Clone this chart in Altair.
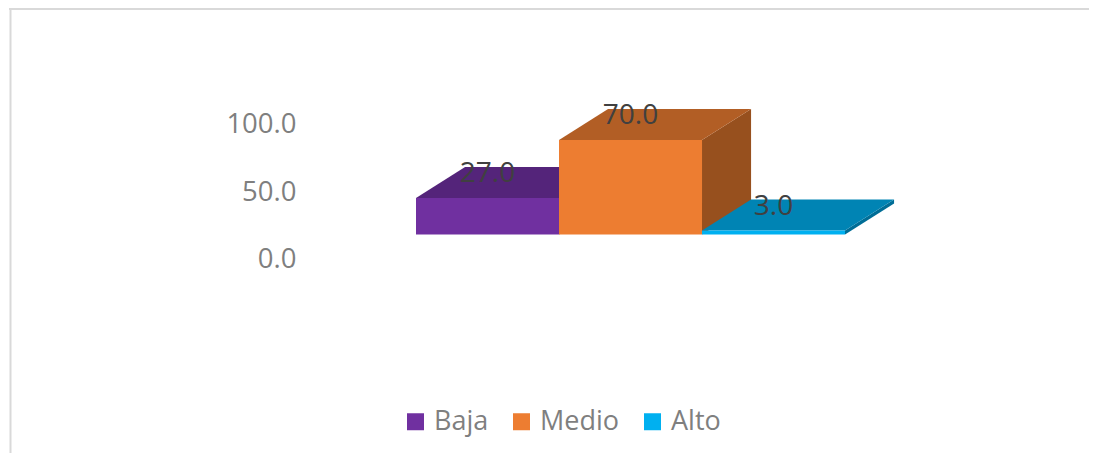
import altair as alt
import pandas as pd

categories = ["Baja", "Medio", "Alto"]
values = [27.0, 70.0, 3.0]
tick_values = [0, 50, 100]

front_colors = ["#7030a0", "#ed7d31", "#00b0f0"]
top_colors = ["#54247a", "#b25e25", "#0084b4"]
side_colors = ["#46205f", "#97501e", "#006d96"]

DEPTH_X = 0.343
DEPTH_Y = 23.0
W, H = 1081, 445
X_DOMAIN = [-2.853, 4.706]
Y_DOMAIN = [-161.8, 167.8]
FONT = "Open Sans"

x_scale = alt.Scale(domain=X_DOMAIN, nice=False, zero=False)
y_scale = alt.Scale(domain=Y_DOMAIN, nice=False, zero=False)
y_axis = alt.Axis(
    values=tick_values, format=".1f", title=None, grid=False, domain=False, ticks=False,
    labelFont=FONT, labelFontSize=27.5, labelColor="#7f7f7f",
    labelOffset=25, offset=-293, labelPadding=5,
)

front = pd.DataFrame(
    [{"cat": c, "x": i, "x2": i + 1, "v": v, "base": 0, "mid": i + 0.5, "label": f"{v:.1f}"}
     for i, (c, v) in enumerate(zip(categories, values))]
)
top_rows, side_rows = [], []
for i, (c, v) in enumerate(zip(categories, values)):
    top_rows += [
        {"cat": c, "x": i, "x2": i + 1, "y": v, "fill": top_colors[i]},
        {"cat": c, "x": i + DEPTH_X, "x2": i + 1 + DEPTH_X, "y": v + DEPTH_Y, "fill": top_colors[i]},
    ]
    side_rows += [
        {"cat": c, "x": i + 1, "y": 0, "y2": v, "fill": side_colors[i]},
        {"cat": c, "x": i + 1 + DEPTH_X, "y": DEPTH_Y, "y2": v + DEPTH_Y, "fill": side_colors[i]},
    ]
top = pd.DataFrame(top_rows)
side = pd.DataFrame(side_rows)

sides = alt.Chart(side).mark_area(opacity=1, orient="vertical").encode(
    x=alt.X("x:Q", scale=x_scale, axis=None),
    y=alt.Y("y:Q", scale=y_scale, axis=y_axis),
    y2="y2:Q",
    detail="cat:N",
    fill=alt.Fill("fill:N", scale=None),
)
tops = alt.Chart(top).mark_area(opacity=1, orient="horizontal").encode(
    x=alt.X("x:Q", scale=x_scale, axis=None),
    x2="x2:Q",
    y=alt.Y("y:Q", scale=y_scale, axis=y_axis),
    detail="cat:N",
    fill=alt.Fill("fill:N", scale=None),
)
fronts = alt.Chart(front).mark_rect(opacity=1).encode(
    x=alt.X("x:Q", scale=x_scale, axis=None),
    x2="x2:Q",
    y=alt.Y("base:Q", scale=y_scale, axis=y_axis),
    y2="v:Q",
    color=alt.Color(
        "cat:N",
        sort=categories,
        scale=alt.Scale(domain=categories, range=front_colors),
        legend=alt.Legend(
            title=None, orient="none", legendX=394, legendY=400, direction="horizontal", columns=3,
            symbolType="square", symbolSize=289, symbolStrokeWidth=0, symbolOpacity=1,
            labelFont=FONT, labelFontSize=27, labelColor="#7f7f7f", labelOffset=5,
            columnPadding=19, padding=0, labelLimit=200,
        ),
    ),
)
labels = alt.Chart(front).mark_text(
    font=FONT, fontSize=28, color="#404040", dy=-24, align="center", baseline="middle"
).encode(
    x=alt.X("mid:Q", scale=x_scale, axis=None),
    y=alt.Y("v:Q", scale=y_scale, axis=y_axis),
    text="label:N",
)
frame_top = alt.Chart(pd.DataFrame({"a": [0]})).mark_rule(color="#d9d9d9", strokeWidth=2).encode(
    x=alt.value(1), x2=alt.value(W), y=alt.value(1)
)
frame_left = alt.Chart(pd.DataFrame({"a": [0]})).mark_rule(color="#d9d9d9", strokeWidth=2).encode(
    x=alt.value(2.5), y=alt.value(0), y2=alt.value(H)
)

chart = (
    alt.layer(frame_top, frame_left, sides, tops, fronts, labels)
    .properties(width=W, height=H, padding=0, autosize=alt.AutoSizeParams(type="none"), background="white")
    .configure_view(strokeWidth=0)
)
chart.save("out.html", embed_options={"renderer": "svg", "actions": False})
